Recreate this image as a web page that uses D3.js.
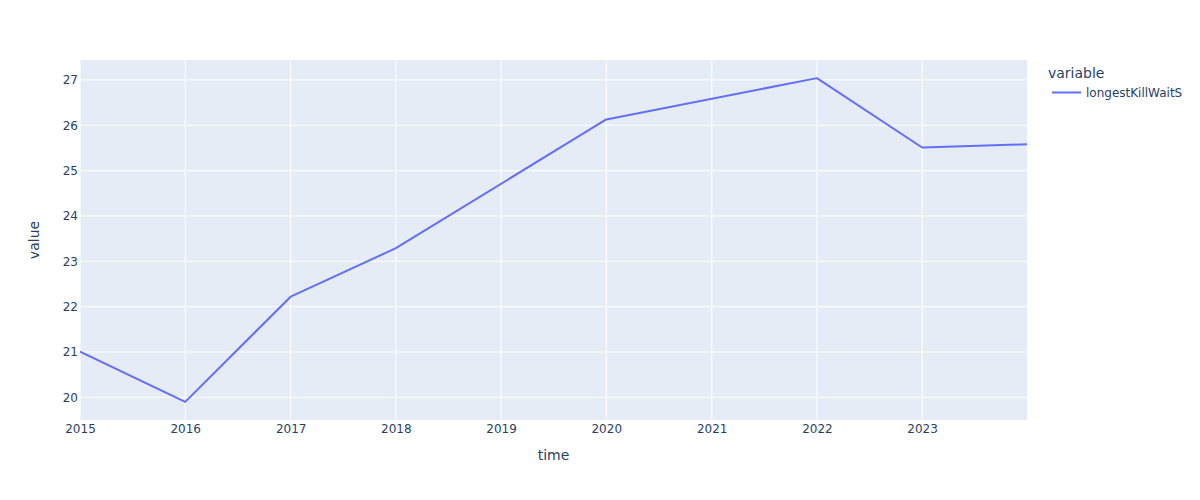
<!DOCTYPE html>
<html>
<head>
<meta charset="utf-8">
<script src="https://cdn.jsdelivr.net/npm/d3@7"></script>
<style>
  html, body { margin: 0; padding: 0; background: #fff; }
  svg { display: block; font-family: "DejaVu Sans", verdana, arial, sans-serif; }
</style>
</head>
<body>
<svg id="chart" width="1200" height="500"></svg>
<script>
// Data
const times = ["2015-01-01", "2016-01-01", "2017-01-01", "2018-01-01", "2020-01-01", "2022-01-01", "2023-01-01", "2023-12-31"];
const values = [21.01, 19.90, 22.22, 23.29, 26.13, 27.04, 25.51, 25.58];
const seriesName = "longestKillWaitS";
const yTicks = [20, 21, 22, 23, 24, 25, 26, 27];
const xTickYears = [2015, 2016, 2017, 2018, 2019, 2020, 2021, 2022, 2023];

const FONT = '"DejaVu Sans", verdana, arial, sans-serif';
const parse = d3.utcParse("%Y-%m-%d");
const data = times.map((t, i) => ({ t: parse(t), v: values[i] }));

const margin = { left: 80, right: 1027, top: 60, bottom: 420 };
const svg = d3.select("#chart");

const x = d3.scaleUtc()
  .domain([parse("2015-01-01"), parse("2023-12-31")])
  .range([margin.left, margin.right]);
const y = d3.scaleLinear()
  .domain([19.5, 27.44])
  .range([margin.bottom, margin.top]);

// Plot background
svg.append("rect")
  .attr("x", margin.left).attr("y", margin.top)
  .attr("width", margin.right - margin.left)
  .attr("height", margin.bottom - margin.top)
  .attr("fill", "#e5ecf6");

const textColor = "#2a3f5f";

// Gridlines
const xTickDates = xTickYears.map(yr => new Date(Date.UTC(yr, 0, 1)));
svg.append("g").selectAll("line").data(xTickDates).join("line")
  .attr("x1", d => x(d)).attr("x2", d => x(d))
  .attr("y1", margin.top).attr("y2", margin.bottom)
  .attr("stroke", "#fff").attr("stroke-width", 1);
svg.append("g").selectAll("line").data(yTicks).join("line")
  .attr("x1", margin.left).attr("x2", margin.right)
  .attr("y1", d => y(d)).attr("y2", d => y(d))
  .attr("stroke", "#fff").attr("stroke-width", 1);

// Axes
const xAxis = d3.axisBottom(x).tickValues(xTickDates).tickFormat(d3.utcFormat("%Y")).tickSize(0).tickPadding(4);
const gx = svg.append("g").attr("transform", `translate(0,${margin.bottom})`).call(xAxis);
gx.select(".domain").remove();
gx.selectAll("text").attr("fill", textColor).attr("font-size", 12).attr("font-family", FONT);

const yAxis = d3.axisLeft(y).tickValues(yTicks).tickFormat(d3.format("d")).tickSize(0).tickPadding(2);
const gy = svg.append("g").attr("transform", `translate(${margin.left},0)`).call(yAxis);
gy.select(".domain").remove();
gy.selectAll("text").attr("fill", textColor).attr("font-size", 12).attr("font-family", FONT);

// Clip path for line
svg.append("clipPath").attr("id", "clip")
  .append("rect")
  .attr("x", margin.left).attr("y", margin.top)
  .attr("width", margin.right - margin.left)
  .attr("height", margin.bottom - margin.top);

const line = d3.line().x(d => x(d.t)).y(d => y(d.v));
svg.append("path")
  .datum(data)
  .attr("d", line)
  .attr("fill", "none")
  .attr("stroke", "#636efa")
  .attr("stroke-width", 2)
  .attr("stroke-linejoin", "round")
  .attr("clip-path", "url(#clip)");

// Axis titles
svg.append("text")
  .attr("x", (margin.left + margin.right) / 2)
  .attr("y", 460)
  .attr("text-anchor", "middle")
  .attr("font-size", 14)
  .attr("fill", textColor)
  .text("time");
svg.append("text")
  .attr("transform", `translate(39,${(margin.top + margin.bottom) / 2}) rotate(-90)`)
  .attr("text-anchor", "middle")
  .attr("font-size", 14)
  .attr("fill", textColor)
  .text("value");

// Legend
const legend = svg.append("g");
legend.append("text")
  .attr("x", 1048).attr("y", 78)
  .attr("font-size", 14)
  .attr("fill", textColor)
  .text("variable");
legend.append("line")
  .attr("x1", 1052).attr("x2", 1081)
  .attr("y1", 92.5).attr("y2", 92.5)
  .attr("stroke", "#636efa").attr("stroke-width", 2);
legend.append("text")
  .attr("x", 1086).attr("y", 97)
  .attr("font-size", 12)
  .attr("fill", textColor)
  .text(seriesName);
</script>
</body>
</html>
